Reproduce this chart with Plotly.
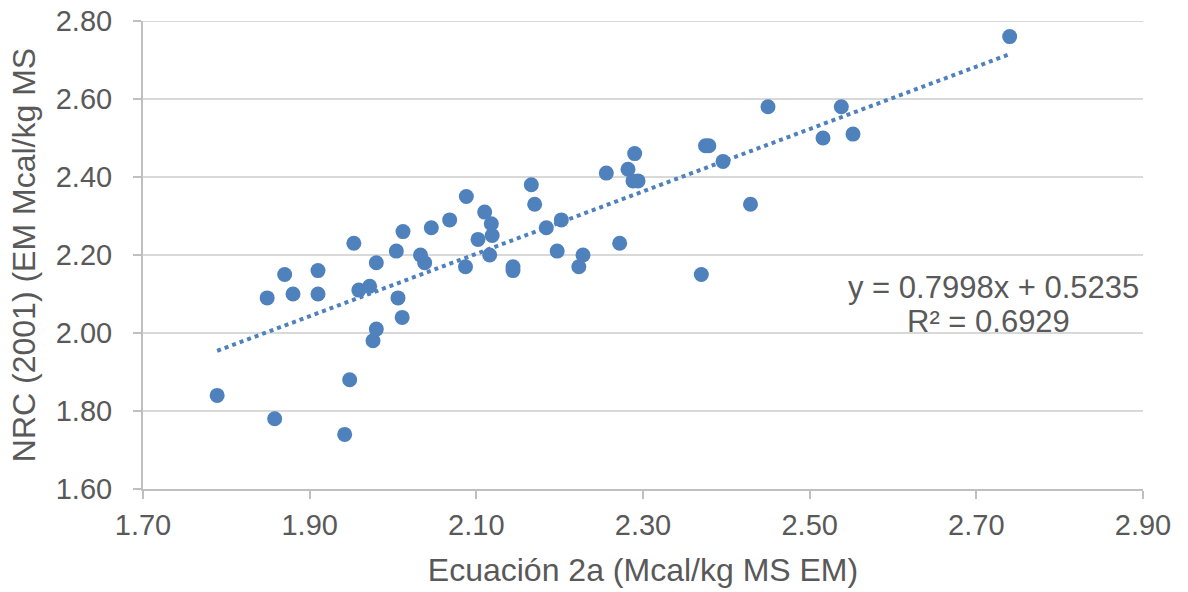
import plotly.graph_objects as go

ecuacion_2a = [1.789, 1.858, 1.942, 1.948, 1.976, 1.980, 1.849, 1.870, 1.880, 1.910,
               1.910, 1.953, 1.959, 1.972, 1.980, 2.004, 2.006, 2.011, 2.012, 2.033,
               2.038, 2.046, 2.068, 2.088, 2.087, 2.102, 2.110, 2.118, 2.119, 2.116,
               2.144, 2.144, 2.166, 2.170, 2.184, 2.197, 2.202, 2.223, 2.228, 2.256,
               2.272, 2.282, 2.288, 2.290, 2.294, 2.370, 2.375, 2.379, 2.396, 2.429,
               2.450, 2.516, 2.538, 2.552, 2.740]
nrc_2001 = [1.84, 1.78, 1.74, 1.88, 1.98, 2.01, 2.09, 2.15, 2.10, 2.16,
            2.10, 2.23, 2.11, 2.12, 2.18, 2.21, 2.09, 2.04, 2.26, 2.20,
            2.18, 2.27, 2.29, 2.35, 2.17, 2.24, 2.31, 2.28, 2.25, 2.20,
            2.17, 2.16, 2.38, 2.33, 2.27, 2.21, 2.29, 2.17, 2.20, 2.41,
            2.23, 2.42, 2.39, 2.46, 2.39, 2.15, 2.48, 2.48, 2.44, 2.33,
            2.58, 2.50, 2.58, 2.51, 2.76]

slope = 0.7998
intercept = 0.5235
r2 = 0.6929

x_ticks = [1.70, 1.90, 2.10, 2.30, 2.50, 2.70, 2.90]
y_ticks = [1.60, 1.80, 2.00, 2.20, 2.40, 2.60, 2.80]

FONT = "Liberation Sans, Arial, sans-serif"
GREY = "#595959"
BLUE = "#4F81BD"
GRID = "#d9d9d9"

x_min, x_max = min(ecuacion_2a), max(ecuacion_2a)
trend_x = [x_min, x_max]
trend_y = [slope * v + intercept for v in trend_x]

fig = go.Figure()
fig.add_trace(go.Scatter(
    x=ecuacion_2a, y=nrc_2001, mode="markers",
    marker=dict(size=15, color=BLUE, line=dict(width=0)),
    showlegend=False, hoverinfo="x+y"))
fig.add_trace(go.Scatter(
    x=trend_x, y=trend_y, mode="lines",
    line=dict(color=BLUE, width=4, dash="dot"),
    showlegend=False, hoverinfo="skip"))

fig.add_annotation(
    x=2.720, y=2.117, xref="x", yref="y",
    text=f"y = {slope:.4f}x + {intercept:.4f}",
    showarrow=False, align="center",
    font=dict(family=FONT, size=31, color=GREY))
fig.add_annotation(
    x=2.714, y=2.030, xref="x", yref="y",
    text=f"R² = {r2:.4f}",
    showarrow=False, align="center",
    font=dict(family=FONT, size=31, color=GREY))

# top gridline (plotly drops the grid line at the very edge of the range)
fig.add_shape(type="line", xref="paper", yref="y", x0=0, x1=1,
              y0=y_ticks[-1], y1=y_ticks[-1],
              line=dict(color=GRID, width=2), layer="below")

fig.update_layout(
    width=1188, height=592,
    margin=dict(l=143, r=45, t=21, b=103),
    paper_bgcolor="white", plot_bgcolor="white",
    font=dict(family=FONT, size=29, color=GREY),
    xaxis=dict(
        range=[1.6999999, 2.9000001], tickvals=x_ticks,
        ticktext=[f"{v:.2f}" for v in x_ticks],
        showgrid=False, zeroline=False, automargin=False,
        showline=True, linecolor="#bfbfbf", linewidth=2,
        ticks="outside", ticklen=8, tickcolor="#bfbfbf", tickwidth=2,
        ticklabelstandoff=1, ticklabeloverflow="allow",
        tickfont=dict(family=FONT, size=29, color=GREY),
        title=dict(text="Ecuación 2a (Mcal/kg MS EM)", standoff=19,
                   font=dict(family=FONT, size=32, color=GREY))),
    yaxis=dict(
        range=[1.5999999, 2.8000001], tickvals=y_ticks,
        ticktext=[f"{v:.2f}" for v in y_ticks],
        showgrid=True, gridcolor=GRID, gridwidth=2,
        zeroline=False, automargin=False,
        showline=True, linecolor="#bfbfbf", linewidth=2,
        ticks="outside", ticklen=8, tickcolor="#bfbfbf", tickwidth=2,
        ticklabelstandoff=15, ticklabeloverflow="allow",
        tickfont=dict(family=FONT, size=29, color=GREY),
        title=dict(text="NRC (2001) (EM Mcal/kg MS", standoff=11,
                   font=dict(family=FONT, size=32, color=GREY))),
)

fig.write_html("out.html",
               config={"displayModeBar": False},
               post_script="document.body.style.margin='0';document.body.style.overflow='hidden';")
